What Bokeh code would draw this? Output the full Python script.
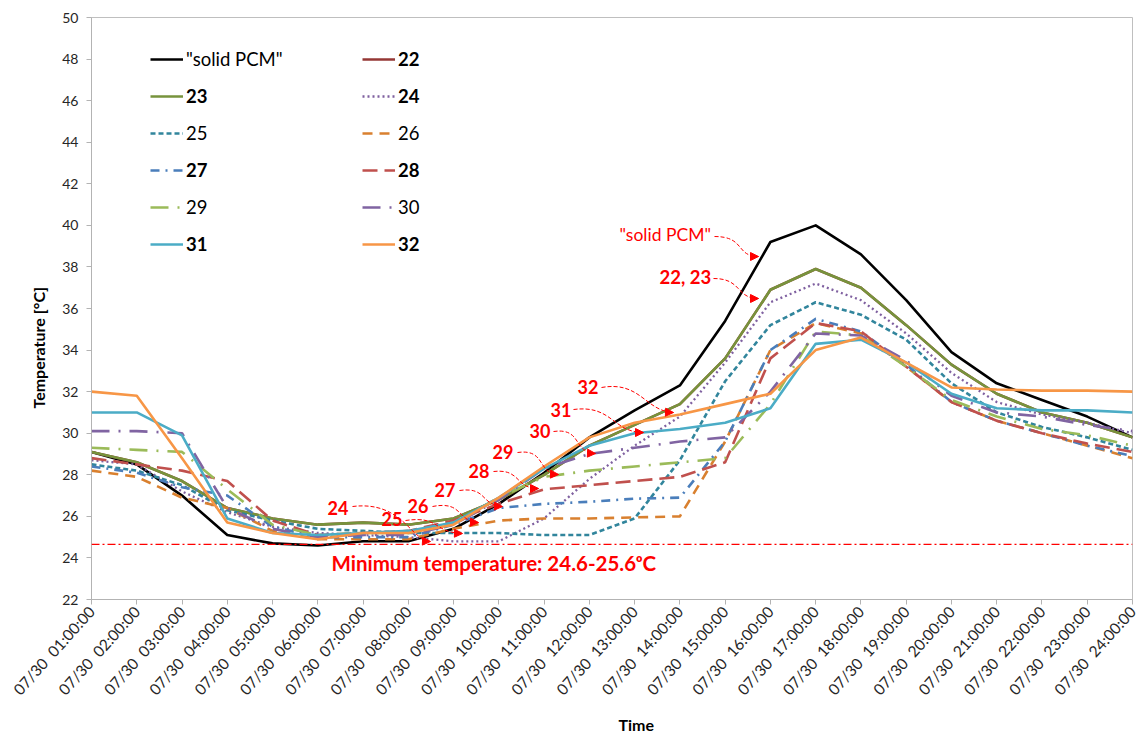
from math import pi, atan2, cos, sin, radians

from bokeh.plotting import figure
from bokeh.models import (Range1d, Legend, LegendItem, Span, Label, Arrow,
                          NormalHead, FixedTicker, Title)
from bokeh.embed import file_html
from bokeh.resources import INLINE

# ---------------------------------------------------------------- data
hours = list(range(1, 25))
time_labels = [
    "07/30\u00a0\u00a001:00:00", "07/30\u00a0\u00a002:00:00", "07/30\u00a0\u00a003:00:00",
    "07/30\u00a0\u00a004:00:00", "07/30\u00a0\u00a005:00:00", "07/30\u00a0\u00a006:00:00",
    "07/30\u00a0\u00a007:00:00", "07/30\u00a0\u00a008:00:00", "07/30\u00a0\u00a009:00:00",
    "07/30\u00a0\u00a010:00:00", "07/30\u00a0\u00a011:00:00", "07/30\u00a0\u00a012:00:00",
    "07/30\u00a0\u00a013:00:00", "07/30\u00a0\u00a014:00:00", "07/30\u00a0\u00a015:00:00",
    "07/30\u00a0\u00a016:00:00", "07/30\u00a0\u00a017:00:00", "07/30\u00a0\u00a018:00:00",
    "07/30\u00a0\u00a019:00:00", "07/30\u00a0\u00a020:00:00", "07/30\u00a0\u00a021:00:00",
    "07/30\u00a0\u00a022:00:00", "07/30\u00a0\u00a023:00:00", "07/30\u00a0\u00a024:00:00",
]
temp_ticks = [22, 24, 26, 28, 30, 32, 34, 36, 38, 40, 42, 44, 46, 48, 50]

solid_pcm = [29.1, 28.5, 27.0, 25.1, 24.7, 24.6, 24.8, 24.8, 25.4, 26.6, 28.1, 29.8,
             31.1, 32.3, 35.4, 39.2, 40.0, 38.6, 36.4, 33.9, 32.4, 31.6, 30.8, 29.8]
pcm22 = [29.1, 28.6, 27.7, 26.4, 25.9, 25.6, 25.7, 25.6, 25.9, 26.8, 28.0, 29.4,
         30.4, 31.4, 33.6, 36.9, 37.9, 37.0, 35.2, 33.3, 31.9, 31.0, 30.5, 29.8]
pcm23 = [29.1, 28.6, 27.7, 26.4, 25.9, 25.6, 25.7, 25.6, 25.9, 26.8, 28.0, 29.4,
         30.4, 31.4, 33.6, 36.9, 37.9, 37.0, 35.2, 33.3, 31.9, 31.0, 30.5, 29.8]
pcm24 = [28.7, 28.5, 27.2, 26.2, 25.5, 25.2, 25.1, 25.0, 24.8, 24.8, 25.9, 27.8,
         29.4, 30.8, 33.4, 36.3, 37.2, 36.4, 34.8, 32.9, 31.5, 30.9, 30.5, 30.0]
pcm25 = [28.5, 28.2, 27.5, 26.3, 25.8, 25.4, 25.3, 25.2, 25.2, 25.2, 25.1, 25.1,
         25.9, 28.7, 32.5, 35.2, 36.3, 35.7, 34.5, 32.4, 31.0, 30.3, 29.8, 29.2]
pcm26 = [28.2, 27.9, 26.9, 26.4, 25.3, 24.9, 24.9, 24.9, 25.4, 25.8, 25.9, 25.9,
         25.95, 26.0, 29.6, 34.0, 35.3, 34.8, 33.2, 31.5, 30.6, 30.0, 29.4, 28.8]
pcm27 = [28.4, 28.1, 27.4, 27.0, 25.5, 25.0, 25.0, 25.0, 25.6, 26.4, 26.6, 26.7,
         26.85, 26.9, 29.6, 34.0, 35.5, 34.9, 33.3, 31.5, 30.6, 30.0, 29.4, 28.9]
pcm28 = [28.8, 28.5, 28.2, 27.7, 25.8, 25.1, 25.2, 25.3, 25.8, 26.6, 27.3, 27.5,
         27.7, 27.9, 28.6, 33.6, 35.3, 34.9, 33.2, 31.5, 30.6, 30.0, 29.5, 29.1]
pcm29 = [29.3, 29.2, 29.1, 27.3, 25.6, 25.1, 25.2, 25.2, 25.7, 26.9, 27.9, 28.2,
         28.4, 28.6, 28.8, 31.4, 34.9, 34.7, 33.2, 31.6, 30.8, 30.2, 29.9, 29.4]
pcm30 = [30.1, 30.1, 30.0, 26.4, 25.4, 25.0, 25.1, 25.1, 25.6, 26.8, 28.3, 29.0,
         29.3, 29.6, 29.8, 32.0, 34.8, 34.7, 33.5, 31.8, 31.0, 30.8, 30.4, 30.1]
pcm31 = [31.0, 31.0, 29.9, 25.9, 25.2, 25.1, 25.2, 25.3, 25.7, 26.9, 28.3, 29.4,
         30.0, 30.2, 30.5, 31.2, 34.3, 34.5, 33.4, 31.9, 31.2, 31.1, 31.1, 31.0]
pcm32 = [32.0, 31.8, 28.8, 25.7, 25.2, 24.9, 25.2, 25.2, 25.6, 26.9, 28.4, 29.8,
         30.5, 30.9, 31.4, 31.9, 34.0, 34.6, 33.4, 32.2, 32.1, 32.05, 32.05, 32.0]

min_temperature = 24.65

# ---------------------------------------------------------------- styles
FONT = "Lato"
RED = "#FF0000"

series = [
    # label, values, color, dash, width, bold legend text
    ('"solid PCM"', solid_pcm, "#000000", "solid", 2.6, False),
    ("22", pcm22, "#953735", "solid", 2.6, True),
    ("23", pcm23, "#77933C", "solid", 2.6, True),
    ("24", pcm24, "#7F60A0", "2 3", 2.3, True),
    ("25", pcm25, "#31859C", "5 3", 2.6, False),
    ("26", pcm26, "#D9802F", "10 7", 2.6, False),
    ("27", pcm27, "#4A7EBB", "9 6 2 6", 2.6, True),
    ("28", pcm28, "#C0504D", "15 7", 2.6, True),
    ("29", pcm29, "#9BBB59", "18 9 2 9", 2.6, False),
    ("30", pcm30, "#8064A2", "18 9 2 9", 2.6, False),
    ("31", pcm31, "#4BACC6", "solid", 2.6, True),
    ("32", pcm32, "#F79646", "solid", 2.6, True),
]

# frame geometry (pixels) used to place the annotations
LEFT, RIGHT, TOP, BOTTOM = 91, 1132, 17, 599


def X(px):
    return 1 + (px - LEFT) * 23 / (RIGHT - LEFT)


def Y(py):
    return 22 + (BOTTOM - py) * 28 / (BOTTOM - TOP)


p = figure(width=1142, height=739, output_backend="svg", toolbar_location=None,
           x_range=Range1d(1, 24), y_range=Range1d(22, 50),
           min_border_left=LEFT, min_border_right=1142 - RIGHT,
           min_border_top=TOP, min_border_bottom=739 - BOTTOM)

p.background_fill_color = "white"
p.border_fill_color = "white"
p.outline_line_color = "#BFBFBF"
p.outline_line_width = 1
p.xgrid.visible = False
p.ygrid.visible = False

# axes
p.xaxis.ticker = FixedTicker(ticks=hours)
p.xaxis.major_label_overrides = {h: t for h, t in zip(hours, time_labels)}
p.xaxis.major_label_orientation = radians(48)
p.yaxis.ticker = FixedTicker(ticks=temp_ticks)
for ax in (p.xaxis[0], p.yaxis[0]):
    ax.axis_line_color = "#B3B3B3"
    ax.major_tick_line_color = "#B3B3B3"
    ax.major_tick_in = 0
    ax.major_tick_out = 5
    ax.minor_tick_line_color = None
    ax.major_label_text_font = FONT
    ax.major_label_text_color = "#262626"
p.yaxis.major_label_text_font_size = "14px"
p.xaxis.major_label_text_font_size = "15.5px"
p.yaxis.major_label_standoff = 8
p.xaxis.major_label_standoff = 4

# axis titles
p.add_layout(Title(text="Temperature [°C]", align="left", offset=191,
                   standoff=23, text_font=FONT, text_font_size="16px",
                   text_font_style="bold", text_color="#000000"), "left")
p.add_layout(Title(text="Time", align="left", offset=527, standoff=11,
                   text_font=FONT, text_font_size="16px",
                   text_font_style="bold", text_color="#000000"), "below")

# minimum temperature reference line
p.add_layout(Span(location=min_temperature, dimension="width", line_color=RED,
                  line_dash="8 3 2 3", line_width=1.3))

# temperature curves
renderers = []
for label, vals, color, dash, w, bold in series:
    r = p.line(hours, vals, line_color=color, line_width=w, line_dash=dash,
               line_join="round")
    renderers.append(r)

# legend: two columns, six rows
row_y = [60, 97, 134, 171, 208, 245]
col_x = [150, 362]
for i, (r, (label, vals, color, dash, w, bold)) in enumerate(zip(renderers, series)):
    cx = col_x[i % 2]
    cy = row_y[i // 2]
    leg = Legend(items=[LegendItem(label=label, renderers=[r])],
                 location=(cx - LEFT, BOTTOM - cy - 10),
                 glyph_width=33, glyph_height=20, label_height=20,
                 label_standoff=3, padding=0, margin=0, spacing=0,
                 background_fill_alpha=0, border_line_alpha=0,
                 label_text_font=FONT, label_text_font_size="18.5px",
                 label_text_color="#000000",
                 label_text_font_style="bold" if bold else "normal")
    p.add_layout(leg)

# callouts: text, text anchor (px), bezier start, ctrl1, ctrl2, end (px)
callouts = [
    ('"solid PCM"', (619, 234), "normal", "17.5px",
     (714, 236), (745, 236), (735, 256), (758, 256)),
    ("22, 23", (659, 276), "bold", "18.5px",
     (713, 278), (742, 278), (735, 298), (758, 298)),
    ("32", (577, 386), "bold", "18px",
     (601, 387), (640, 380), (645, 411), (673, 412)),
    ("31", (550, 409), "bold", "18px",
     (573, 409), (612, 404), (612, 432), (643, 432)),
    ("30", (529, 430), "bold", "18px",
     (553, 431), (582, 427), (572, 452), (595, 453)),
    ("29", (492, 451), "bold", "18px",
     (517, 452), (546, 448), (536, 473), (558, 474)),
    ("28", (468, 470), "bold", "18px",
     (493, 471), (521, 468), (514, 488), (538, 488)),
    ("27", (434, 489), "bold", "18px",
     (459, 490), (487, 486), (480, 505), (502, 506)),
    ("26", (407, 505), "bold", "18px",
     (432, 506), (463, 500), (456, 521), (478, 522)),
    ("25", (381, 518), "bold", "18px",
     (405, 520), (440, 515), (432, 532), (462, 533)),
    ("24", (327, 507), "bold", "18px",
     (352, 506), (402, 500), (410, 540), (430, 541)),
]
for text, (tx, ty), style, size, s, c1, c2, e in callouts:
    p.add_layout(Label(x=X(tx), y=Y(ty), text=text, text_align="left",
                       text_baseline="middle", text_font=FONT,
                       text_font_size=size, text_font_style=style,
                       text_color=RED))
    p.bezier(x0=[X(s[0])], y0=[Y(s[1])], x1=[X(e[0])], y1=[Y(e[1])],
             cx0=[X(c1[0])], cy0=[Y(c1[1])], cx1=[X(c2[0])], cy1=[Y(c2[1])],
             line_color=RED, line_width=1, line_dash="4 2")
    ang = atan2(e[1] - c2[1], e[0] - c2[0])
    bx, by = e[0] - 3 * cos(ang), e[1] - 3 * sin(ang)
    p.add_layout(Arrow(end=NormalHead(size=8, fill_color=RED, line_color=RED,
                                      line_width=1),
                       x_start=X(bx), y_start=Y(by), x_end=X(e[0]), y_end=Y(e[1]),
                       line_alpha=0))

# minimum temperature caption
p.add_layout(Label(x=X(331), y=Y(562),
                   text="Minimum temperature: 24.6-25.6ᵒC",
                   text_align="left", text_baseline="middle", text_font=FONT,
                   text_font_size="20.5px", text_font_style="bold",
                   text_color=RED))

open("out.html", "w").write(file_html(p, INLINE))
